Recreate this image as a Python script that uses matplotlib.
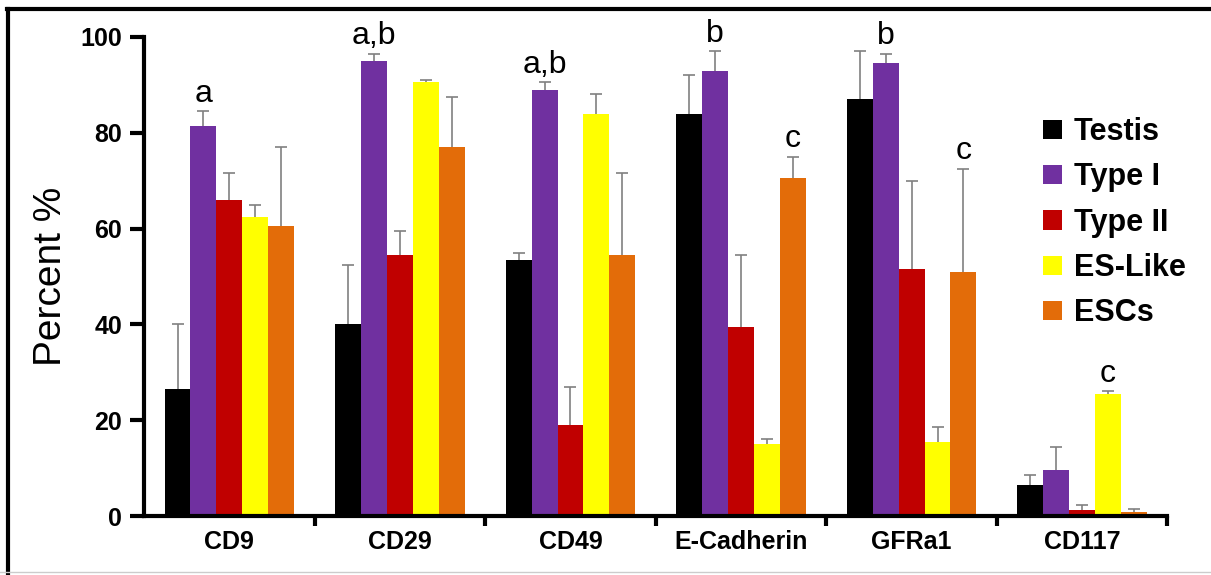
import matplotlib.pyplot as plt
import numpy as np
from matplotlib.lines import Line2D

plt.rcParams['font.family'] = ['Liberation Sans', 'DejaVu Sans']

markers = ['CD9', 'CD29', 'CD49', 'E-Cadherin', 'GFRa1', 'CD117']
groups = ['Testis', 'Type I', 'Type II', 'ES-Like', 'ESCs']
colors = ['#000000', '#7030A0', '#C00000', '#FFFF00', '#E36C09']

testis = [26.5, 40, 53.5, 84, 87, 6.5]
type1 = [81.5, 95, 89, 93, 94.5, 9.5]
type2 = [66, 54.5, 19, 39.5, 51.5, 1.2]
es_like = [62.5, 90.5, 84, 15, 15.5, 25.5]
escs = [60.5, 77, 54.5, 70.5, 51, 0.8]

testis_err = [13.5, 12.5, 1.5, 8, 10, 2]
type1_err = [3, 1.5, 1.5, 4, 2, 5]
type2_err = [5.5, 5, 8, 15, 18.5, 1]
es_like_err = [2.5, 0.5, 4, 1, 3, 0.5]
escs_err = [16.5, 10.5, 17, 4.5, 21.5, 0.7]

# letters above bars: (marker index, group index, text)
letters = [(0, 1, 'a'), (1, 1, 'a,b'), (2, 1, 'a,b'), (3, 1, 'b'), (4, 1, 'b'),
           (3, 4, 'c'), (4, 4, 'c'), (5, 3, 'c')]

values = [testis, type1, type2, es_like, escs]
errors = [testis_err, type1_err, type2_err, es_like_err, escs_err]

fig = plt.figure(figsize=(12.11, 5.75), dpi=100)
ax = fig.add_axes([0.119, 0.1026, 0.845, 0.8331])

x = np.arange(len(markers))
w = 0.152
for k, (name, vals, errs, c) in enumerate(zip(groups, values, errors, colors)):
    pos = x + (k - 2) * w
    ax.bar(pos, vals, w, color=c, label=name, zorder=2)
    # symmetric bars drawn behind, so only the upper half shows
    ax.errorbar(pos, vals, yerr=errs, fmt='none', ecolor='#808080',
                elinewidth=1.2, capsize=4, capthick=1.2, zorder=1)

for m, g, txt in letters:
    top = values[g][m] + errors[g][m]
    ax.text(x[m] + (g - 2) * w, top + 0.5, txt, ha='center', va='bottom', fontsize=23)

ax.set_xlim(-0.5, 5.5)
ax.set_ylim(0, 100)
ax.set_yticks([0, 20, 40, 60, 80, 100])
ax.set_xticks(x)
ax.set_xticklabels(markers, fontsize=18, fontweight='bold')
ax.set_xticks(np.arange(0.5, 6, 1), minor=True)
ax.tick_params(axis='x', which='major', length=0, pad=10)
ax.tick_params(axis='x', which='minor', length=7, width=3, direction='out')
ax.tick_params(axis='y', length=10, width=3, labelsize=18, pad=6)
for lab in ax.get_yticklabels():
    lab.set_fontweight('bold')
ax.set_ylabel('Percent %', fontsize=28, labelpad=8)

for s in ['top', 'right']:
    ax.spines[s].set_visible(False)
for s in ['left', 'bottom']:
    ax.spines[s].set_linewidth(3)

leg = ax.legend(loc='upper left', bbox_to_anchor=(0.852, 0.89), frameon=False,
                prop={'size': 22, 'weight': 'bold'}, handlelength=0.6,
                handleheight=0.6, handletextpad=0.4, labelspacing=0.5)

# frame of the original picture: only top and left edges are visible
fig.lines.append(Line2D([0.006, 1.0], [0.984, 0.984], transform=fig.transFigure,
                        color='black', linewidth=3))
fig.lines.append(Line2D([0.007, 0.007], [0.0, 0.985], transform=fig.transFigure,
                        color='black', linewidth=3))
fig.lines.append(Line2D([0.0, 1.0], [0.005, 0.005], transform=fig.transFigure,
                        color='#cccccc', linewidth=1))

fig.savefig('out.png', dpi=100)
